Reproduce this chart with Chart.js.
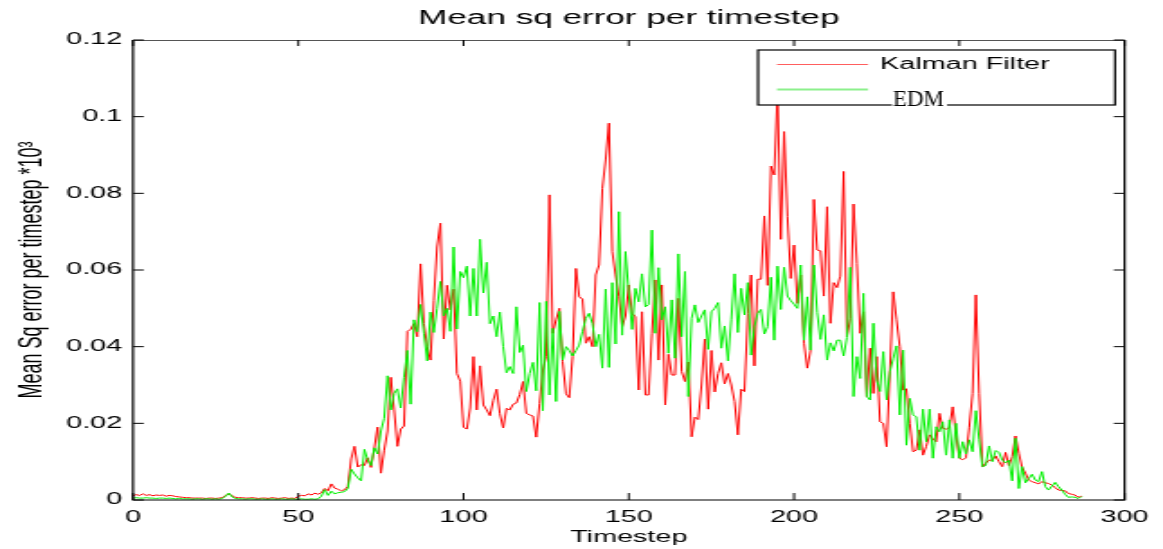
<!DOCTYPE html>
<html lang="en">
<head>
  <meta charset="UTF-8">
  <title>Mean sq error per timestep</title>
  <script src="https://cdn.jsdelivr.net/npm/chart.js"></script>
  <style>
    html, body { margin: 0; padding: 0; background: #fff; }
    #mse { display: block; }
  </style>
</head>
<body>
  <!-- drawn narrow, shown wide: the old figure was saved with a stretched width -->
  <canvas id="mse" width="646" height="549" style="width:1163px;height:549px"></canvas>

  <script>
    // Mean squared error per timestep (x10^3)
    const kalman = [
      0.0011, 0.0014, 0.0012, 0.0016, 0.0012, 0.0014, 0.0011, 0.0013, 0.0012, 0.0013,
      0.0010, 0.0012, 0.0011, 0.0009, 0.0008, 0.0007, 0.0006, 0.0006, 0.0005, 0.0005,
      0.0005, 0.0005, 0.0004, 0.0005, 0.0005, 0.0004, 0.0005, 0.0006, 0.0012, 0.0016,
      0.0011, 0.0007, 0.0006, 0.0006, 0.0005, 0.0005, 0.0006, 0.0005, 0.0004, 0.0005,
      0.0005, 0.0004, 0.0006, 0.0005, 0.0004, 0.0005, 0.0006, 0.0004, 0.0005, 0.0004,
      0.0010, 0.0012, 0.0011, 0.0016, 0.0013, 0.0018, 0.0015, 0.0019, 0.0030, 0.0024,
      0.0042, 0.0031, 0.0028, 0.0024, 0.0027, 0.0035, 0.0107, 0.0140, 0.0086, 0.0092,
      0.0090, 0.0110, 0.0085, 0.0135, 0.0190, 0.0070, 0.0130, 0.0180, 0.0320, 0.0235,
      0.0140, 0.0185, 0.0193, 0.0440, 0.0445, 0.0460, 0.0426, 0.0616, 0.0460, 0.0400,
      0.0365, 0.0520, 0.0660, 0.0722, 0.0420, 0.0560, 0.0496, 0.0550, 0.0330, 0.0310,
      0.0190, 0.0185, 0.0240, 0.0374, 0.0235, 0.0350, 0.0248, 0.0235, 0.0220, 0.0260,
      0.0289, 0.0225, 0.0188, 0.0239, 0.0235, 0.0250, 0.0253, 0.0275, 0.0309, 0.0226,
      0.0222, 0.0219, 0.0164, 0.0252, 0.0339, 0.0374, 0.0796, 0.0435, 0.0470, 0.0500,
      0.0361, 0.0277, 0.0267, 0.0374, 0.0604, 0.0530, 0.0524, 0.0409, 0.0426, 0.0400,
      0.0587, 0.0613, 0.0813, 0.0887, 0.0983, 0.0648, 0.0587, 0.0530, 0.0452, 0.0480,
      0.0561, 0.0487, 0.0478, 0.0287, 0.0491, 0.0274, 0.0274, 0.0435, 0.0574, 0.0365,
      0.0561, 0.0248, 0.0380, 0.0326, 0.0326, 0.0526, 0.0335, 0.0309, 0.0360, 0.0165,
      0.0216, 0.0210, 0.0300, 0.0420, 0.0237, 0.0390, 0.0282, 0.0330, 0.0358, 0.0303,
      0.0330, 0.0300, 0.0257, 0.0170, 0.0289, 0.0283, 0.0487, 0.0587, 0.0350, 0.0576,
      0.0576, 0.0741, 0.0560, 0.0871, 0.0848, 0.1060, 0.0680, 0.0961, 0.0739, 0.0578,
      0.0665, 0.0513, 0.0587, 0.0409, 0.0344, 0.0391, 0.0784, 0.0652, 0.0650, 0.0532,
      0.0765, 0.0461, 0.0567, 0.0554, 0.0584, 0.0857, 0.0426, 0.0474, 0.0772, 0.0617,
      0.0435, 0.0491, 0.0270, 0.0396, 0.0278, 0.0374, 0.0204, 0.0200, 0.0139, 0.0339,
      0.0543, 0.0470, 0.0400, 0.0287, 0.0290, 0.0200, 0.0126, 0.0130, 0.0183, 0.0117,
      0.0140, 0.0170, 0.0160, 0.0152, 0.0226, 0.0187, 0.0185, 0.0189, 0.0243, 0.0170,
      0.0109, 0.0105, 0.0110, 0.0190, 0.0278, 0.0535, 0.0278, 0.0087, 0.0096, 0.0104,
      0.0104, 0.0115, 0.0100, 0.0087, 0.0124, 0.0090, 0.0113, 0.0167, 0.0122, 0.0085,
      0.0070, 0.0052, 0.0048, 0.0045, 0.0042, 0.0048, 0.0045, 0.0043, 0.0039, 0.0032,
      0.0026, 0.0025, 0.0024, 0.0017, 0.0015, 0.0013, 0.0007, 0.0010
    ];

    const edm = [
      0.0005, 0.0006, 0.0005, 0.0005, 0.0006, 0.0005, 0.0005, 0.0004, 0.0005, 0.0005,
      0.0004, 0.0005, 0.0004, 0.0003, 0.0004, 0.0003, 0.0003, 0.0003, 0.0002, 0.0003,
      0.0003, 0.0002, 0.0003, 0.0003, 0.0002, 0.0003, 0.0002, 0.0004, 0.0010, 0.0018,
      0.0008, 0.0004, 0.0003, 0.0003, 0.0002, 0.0003, 0.0003, 0.0002, 0.0002, 0.0003,
      0.0002, 0.0002, 0.0003, 0.0002, 0.0002, 0.0003, 0.0002, 0.0002, 0.0003, 0.0002,
      0.0002, 0.0003, 0.0002, 0.0002, 0.0003, 0.0002, 0.0003, 0.0010, 0.0027, 0.0012,
      0.0023, 0.0016, 0.0019, 0.0020, 0.0022, 0.0030, 0.0080, 0.0068, 0.0058, 0.0050,
      0.0132, 0.0105, 0.0090, 0.0136, 0.0120, 0.0180, 0.0213, 0.0324, 0.0235, 0.0278,
      0.0290, 0.0240, 0.0320, 0.0390, 0.0250, 0.0470, 0.0439, 0.0510, 0.0435, 0.0363,
      0.0490, 0.0437, 0.0500, 0.0570, 0.0480, 0.0500, 0.0440, 0.0660, 0.0446, 0.0596,
      0.0580, 0.0610, 0.0480, 0.0604, 0.0480, 0.0680, 0.0540, 0.0620, 0.0460, 0.0480,
      0.0426, 0.0490, 0.0400, 0.0332, 0.0348, 0.0330, 0.0504, 0.0385, 0.0404, 0.0283,
      0.0330, 0.0359, 0.0285, 0.0515, 0.0233, 0.0518, 0.0274, 0.0448, 0.0257, 0.0492,
      0.0365, 0.0400, 0.0390, 0.0376, 0.0390, 0.0404, 0.0440, 0.0474, 0.0487, 0.0460,
      0.0400, 0.0432, 0.0344, 0.0550, 0.0346, 0.0567, 0.0407, 0.0752, 0.0430, 0.0648,
      0.0540, 0.0445, 0.0552, 0.0517, 0.0590, 0.0504, 0.0510, 0.0704, 0.0435, 0.0606,
      0.0470, 0.0504, 0.0383, 0.0522, 0.0370, 0.0642, 0.0426, 0.0596, 0.0270, 0.0474,
      0.0509, 0.0463, 0.0480, 0.0496, 0.0393, 0.0491, 0.0500, 0.0515, 0.0396, 0.0454,
      0.0363, 0.0470, 0.0590, 0.0437, 0.0552, 0.0483, 0.0567, 0.0378, 0.0452, 0.0487,
      0.0497, 0.0433, 0.0452, 0.0581, 0.0417, 0.0610, 0.0497, 0.0607, 0.0532, 0.0520,
      0.0511, 0.0500, 0.0613, 0.0417, 0.0530, 0.0391, 0.0613, 0.0489, 0.0419, 0.0483,
      0.0365, 0.0410, 0.0389, 0.0417, 0.0417, 0.0376, 0.0424, 0.0607, 0.0270, 0.0374,
      0.0317, 0.0539, 0.0270, 0.0261, 0.0461, 0.0313, 0.0283, 0.0387, 0.0261, 0.0335,
      0.0370, 0.0402, 0.0222, 0.0391, 0.0143, 0.0265, 0.0222, 0.0217, 0.0130, 0.0237,
      0.0152, 0.0237, 0.0109, 0.0191, 0.0178, 0.0204, 0.0117, 0.0209, 0.0109, 0.0200,
      0.0109, 0.0152, 0.0120, 0.0157, 0.0126, 0.0233, 0.0157, 0.0087, 0.0090, 0.0141,
      0.0100, 0.0129, 0.0124, 0.0104, 0.0097, 0.0104, 0.0050, 0.0161, 0.0030, 0.0087,
      0.0045, 0.0056, 0.0067, 0.0052, 0.0048, 0.0074, 0.0035, 0.0026, 0.0036, 0.0046,
      0.0035, 0.0026, 0.0015, 0.0007, 0.0008, 0.0007, 0.0004, 0.0009
    ];

    const xTickValues = [0, 50, 100, 150, 200, 250, 300];
    const xTickLabels = ['0', '50', '100', '150', '200', '250', '300'];
    const yTickValues = [0, 0.02, 0.04, 0.06, 0.08, 0.1, 0.12];
    const yTickLabels = ['0', '0.02', '0.04', '0.06', '0.08', '0.1', '0.12'];

    const canvas = document.getElementById('mse');
    const S = 1163 / canvas.width; // on-screen horizontal stretch

    const toPoints = arr => arr.map((v, i) => ({ x: i, y: v }));

    // MATLAB style box: full frame with short ticks pointing inward
    const framePlugin = {
      id: 'frame',
      afterDatasetsDraw(chart) {
        const { ctx, chartArea: a, scales: { x, y } } = chart;
        ctx.save();
        ctx.strokeStyle = '#000';
        ctx.lineWidth = 1.2;
        ctx.beginPath();
        ctx.moveTo(a.left, a.top);
        ctx.lineTo(a.left, a.bottom);
        ctx.lineTo(a.right, a.bottom);
        ctx.lineTo(a.right, a.top);
        ctx.stroke();
        ctx.strokeStyle = '#555';
        ctx.lineWidth = 1;
        ctx.beginPath();
        ctx.moveTo(a.left, a.top + 0.5);
        ctx.lineTo(a.right, a.top + 0.5);
        ctx.stroke();
        ctx.strokeStyle = '#000';
        ctx.beginPath();
        xTickValues.forEach(v => {
          const px = x.getPixelForValue(v);
          ctx.moveTo(px, a.bottom); ctx.lineTo(px, a.bottom - 7);
          ctx.moveTo(px, a.top); ctx.lineTo(px, a.top + 6);
        });
        yTickValues.forEach(v => {
          const py = y.getPixelForValue(v);
          ctx.moveTo(a.left, py); ctx.lineTo(a.left + 6, py);
          ctx.moveTo(a.right, py); ctx.lineTo(a.right - 6, py);
        });
        ctx.stroke();
        ctx.restore();
      }
    };

    // legend box in the upper right corner of the axes
    const legendPlugin = {
      id: 'boxLegend',
      afterDraw(chart) {
        const { ctx } = chart;
        const ds = chart.data.datasets;
        const bx = 758 / S, bw = (1115 - 758) / S, by = 50, bh = 55;
        const lx0 = 777 / S, lx1 = 868 / S;
        ctx.save();
        ctx.fillStyle = '#fff';
        ctx.fillRect(bx, by, bw, bh);
        ctx.strokeStyle = '#000';
        ctx.lineWidth = 1.2;
        ctx.strokeRect(bx, by, bw, bh);

        ctx.strokeStyle = 'rgba(255, 40, 40, 0.75)';
        ctx.lineWidth = 1;
        ctx.beginPath(); ctx.moveTo(lx0, 64.5); ctx.lineTo(lx1, 64.5); ctx.stroke();
        ctx.strokeStyle = '#8cf08c';
        ctx.lineWidth = 2;
        ctx.beginPath(); ctx.moveTo(lx0, 89.5); ctx.lineTo(lx1, 89.5); ctx.stroke();

        ctx.fillStyle = '#000';
        ctx.font = '16px "Liberation Sans", Arial, sans-serif';
        ctx.textBaseline = 'middle';
        ctx.fillText(ds[0].label, 880 / S, 65);

        // second entry was typed in a serif face at normal width
        ctx.fillStyle = '#fff';
        ctx.fillRect(892 / S, 96, 55 / S, 12);
        ctx.translate(893 / S, 106);
        ctx.scale(1 / S, 1);
        ctx.fillStyle = '#000';
        ctx.textBaseline = 'alphabetic';
        ctx.font = '23px "Liberation Serif", "Times New Roman", serif';
        ctx.fillText(ds[1].label, 0, 0);
        ctx.restore();
      }
    };

    new Chart(canvas, {
      type: 'line',
      data: {
        datasets: [
          {
            label: 'Kalman Filter',
            data: toPoints(kalman),
            borderColor: '#ff0000',
            borderWidth: 1,
            pointRadius: 0,
            order: 1
          },
          {
            label: 'EDM',
            data: toPoints(edm),
            borderColor: '#00f000',
            borderWidth: 1,
            pointRadius: 0,
            order: 0
          }
        ]
      },
      options: {
        responsive: false,
        animation: false,
        devicePixelRatio: 1,
        layout: { padding: { left: 0, right: canvas.width - 1129 / S, top: 0, bottom: 0 } },
        plugins: {
          legend: { display: false },
          tooltip: { enabled: false },
          title: {
            display: true,
            fullSize: false,
            text: 'Mean sq error per timestep',
            color: '#000',
            font: { family: '"Liberation Sans", Arial, sans-serif', size: 19.5, weight: 'normal' },
            padding: { top: 6.5, bottom: 10.1 }
          }
        },
        scales: {
          x: {
            type: 'linear',
            min: 0,
            max: 300,
            grid: { display: false, drawTicks: false },
            border: { display: false },
            afterBuildTicks: s => { s.ticks = xTickValues.map(v => ({ value: v })); },
            afterFit: s => { s.height = 49; },
            ticks: {
              color: '#000',
              padding: 8,
              maxRotation: 0,
              font: { family: '"Liberation Sans", Arial, sans-serif', size: 16 },
              callback: (v, i) => xTickLabels[i]
            },
            title: {
              display: true,
              text: 'Timestep',
              color: '#000',
              font: { family: '"Liberation Sans", Arial, sans-serif', size: 16 },
              padding: { top: 0, bottom: 1.5 }
            }
          },
          y: {
            min: 0,
            max: 0.12,
            grid: { display: false, drawTicks: false },
            border: { display: false },
            afterBuildTicks: s => { s.ticks = yTickValues.map(v => ({ value: v })); },
            afterFit: s => { s.width = 133 / S; },
            ticks: {
              color: '#000',
              padding: 6,
              font: { family: '"Liberation Sans", Arial, sans-serif', size: 16 },
              callback: (v, i) => yTickLabels[i]
            },
            title: {
              display: true,
              text: 'Mean Sq error per timestep *10\u00B3',
              color: '#000',
              font: { family: '"Liberation Sans", Arial, sans-serif', size: 18 },
              padding: { top: 7, bottom: 0 }
            }
          }
        }
      },
      plugins: [framePlugin, legendPlugin]
    });
  </script>
</body>
</html>
